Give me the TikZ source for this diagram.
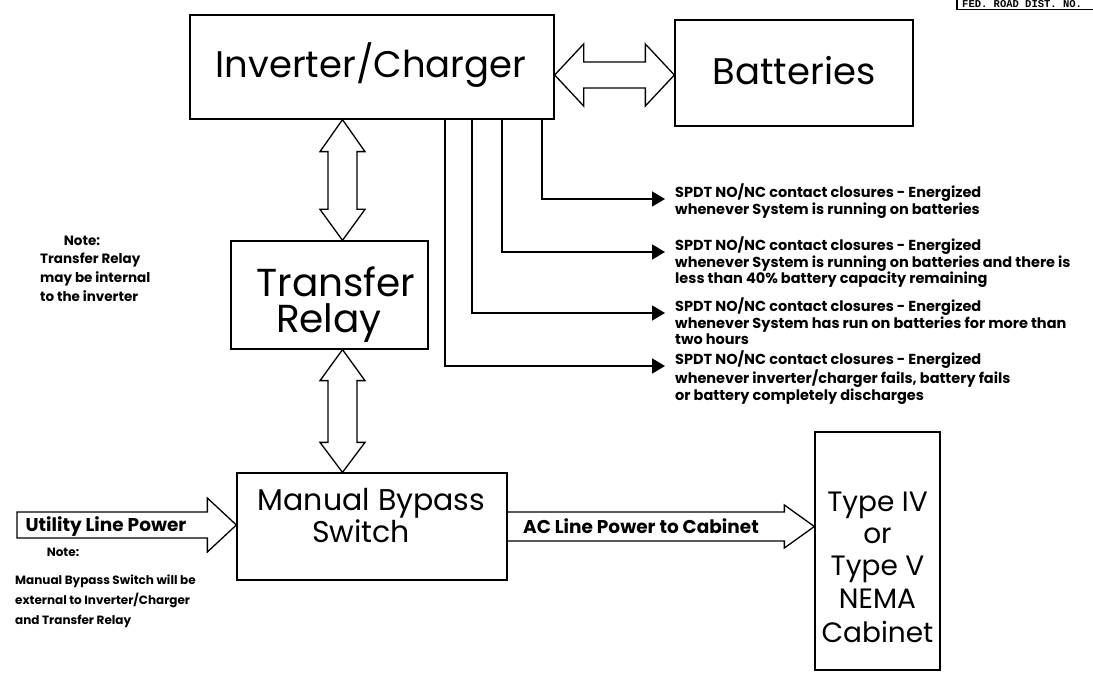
\documentclass[tikz,border=0pt]{standalone}
\usepackage{fontspec}
\setmainfont{Poppins}
\newfontfamily\monof{Liberation Mono}
\usetikzlibrary{arrows.meta,calc}
\begin{document}
\begin{tikzpicture}[x=1pt,y=-1pt,
  box/.style={draw, line width=1.3pt, inner sep=0pt},
  blk/.style={draw, line width=1.3pt, line join=miter},
  conn/.style={line width=1.8pt, -{Triangle[length=13pt,width=15pt]}},
  bigtxt/.style={font=\fontsize{37}{44}\selectfont, inner sep=0pt, anchor=base},
  midtxt/.style={font=\fontsize{30}{36}\selectfont, inner sep=0pt, anchor=base},
  cabtxt/.style={font=\fontsize{28}{33}\selectfont, inner sep=0pt, anchor=base},
  lbl/.style={font=\bfseries\fontsize{18.5}{22}\selectfont, inner sep=0pt, anchor=base},
  spdt/.style={font=\bfseries\fontsize{14.5}{16.5}\selectfont, align=left, anchor=north west, inner sep=0pt},
  note/.style={font=\bfseries\fontsize{12}{20}\selectfont, inner sep=0pt},
  notel/.style={font=\bfseries\fontsize{13.5}{20}\selectfont, inner sep=0pt},
]
\useasboundingbox (0,0) rectangle (1093,676);

% boxes
\node[box, minimum width=364pt, minimum height=104pt] (inv) at (372,67) {};
\node[box, minimum width=238pt, minimum height=106pt] (bat) at (794,73) {};
\node[box, minimum width=197pt, minimum height=108pt] (tr) at (329.5,295) {};
\node[box, minimum width=270pt, minimum height=107pt] (mbs) at (372,526.5) {};
\node[box, minimum width=125pt, minimum height=238pt] (cab) at (877.5,551) {};

% box texts
\node[bigtxt] (invt) at (371,78) {Inverter/Charger};
\node[bigtxt] (batt) at (794,85) {Batteries};
\node[bigtxt, font=\fontsize{39}{44}\selectfont] (trt1) at (336,297) {Transfer};
\node[bigtxt, font=\fontsize{39}{44}\selectfont] (trt2) at (329,333) {Relay};
\node[midtxt] (mbt1) at (371.5,510) {Manual Bypass};
\node[midtxt] (mbt2) at (361,542) {Switch};
\node[cabtxt] (cb1) at (877.5,511) {Type IV};
\node[cabtxt] (cb2) at (877.5,543) {or};
\node[cabtxt] (cb3) at (877.5,575) {Type V};
\node[cabtxt] (cb4) at (877.5,608) {NEMA};
\node[cabtxt] (cb5) at (877.5,642) {Cabinet};

% horizontal double arrow inverter <-> batteries
\coordinate (ha) at (inv.east |- 0,75);
\coordinate (hb) at (bat.west |- 0,75);
\draw[blk] let \p1=(ha), \p2=(hb) in
  (\x1,\y1) -- (\x1+29pt,\y1+31pt) -- (\x1+29pt,\y1+13pt) -- (\x2-29pt,\y1+13pt)
  -- (\x2-29pt,\y1+31pt) -- (\x2,\y1) -- (\x2-29pt,\y1-31pt) -- (\x2-29pt,\y1-13pt)
  -- (\x1+29pt,\y1-13pt) -- (\x1+29pt,\y1-31pt) -- cycle;

% vertical double arrows
\coordinate (va) at (inv.south -| 342.5,0);
\coordinate (vb) at (tr.north -| 342.5,0);
\draw[blk] let \p1=(va), \p2=(vb) in
  (\x1,\y1) -- (\x1+22.5pt,\y1-32pt) -- (\x1+14.5pt,\y1-32pt) -- (\x1+14.5pt,\y2+31pt)
  -- (\x1+22.5pt,\y2+31pt) -- (\x1,\y2) -- (\x1-22.5pt,\y2+31pt) -- (\x1-14.5pt,\y2+31pt)
  -- (\x1-14.5pt,\y1-32pt) -- (\x1-22.5pt,\y1-32pt) -- cycle;
\coordinate (vc) at (tr.south -| 342.5,0);
\coordinate (vd) at (mbs.north -| 342.5,0);
\draw[blk] let \p1=(vc), \p2=(vd) in
  (\x1,\y1) -- (\x1+22.5pt,\y1-31pt) -- (\x1+14.5pt,\y1-31pt) -- (\x1+14.5pt,\y2+30pt)
  -- (\x1+22.5pt,\y2+30pt) -- (\x1,\y2) -- (\x1-22.5pt,\y2+30pt) -- (\x1-14.5pt,\y2+30pt)
  -- (\x1-14.5pt,\y1-31pt) -- (\x1-22.5pt,\y1-31pt) -- cycle;

% utility line power arrow
\coordinate (ut) at (17,525);
\coordinate (uh) at (ut -| mbs.west);
\draw[blk] let \p1=(ut), \p2=(uh) in
  (\x1,\y1+13pt) -- (\x2-29pt,\y1+13pt) -- (\x2-29pt,\y1+27pt) -- (\x2,\y1)
  -- (\x2-29pt,\y1-27pt) -- (\x2-29pt,\y1-13pt) -- (\x1,\y1-13pt) -- cycle;
\node[lbl] (utl) at (106,531) {Utility Line Power};

% AC line power arrow
\coordinate (ac) at (mbs.east);
\coordinate (ah) at (mbs.east -| cab.west);
\draw[blk] let \p1=(ac), \p2=(ah) in
  (\x1,\y1+14.5pt) -- (\x2-30pt,\y1+14.5pt) -- (\x2-30pt,\y1+21.5pt) -- (\x2,\y1)
  -- (\x2-30pt,\y1-21.5pt) -- (\x2-30pt,\y1-14.5pt) -- (\x1,\y1-14.5pt);
\node[lbl] (acl) at (641,533) {AC Line Power to Cabinet};

% SPDT connectors
\coordinate (t1) at (665,199);
\coordinate (t2) at (665,252);
\coordinate (t3) at (665,313);
\coordinate (t4) at (665,366);
\draw[conn] (inv.south -| 542,0) |- (t1);
\draw[conn] (inv.south -| 502,0) |- (t2);
\draw[conn] (inv.south -| 472,0) |- (t3);
\draw[conn] (inv.south -| 445,0) |- (t4);

\node[spdt] (s1) at (675,184) {SPDT NO/NC contact closures - Energized\\whenever System is running on batteries};
\node[spdt] (s2) at (675,237) {SPDT NO/NC contact closures - Energized\\whenever System is running on batteries and there is\\less than 40\% battery capacity remaining};
\node[spdt] (s3) at (675,298) {SPDT NO/NC contact closures - Energized\\whenever System has run on batteries for more than\\two hours};
\node[spdt] (s4) at (675,351) {SPDT NO/NC contact closures - Energized\\whenever inverter/charger fails, battery fails\\or battery completely discharges};

% notes
\node[notel, anchor=base] (n1) at (82,246) {Note:};
\node[notel, anchor=base west] (n1a) at (40,264) {Transfer Relay};
\node[notel, anchor=base west] (n1b) at (40,283) {may be internal};
\node[notel, anchor=base west] (n1c) at (40,302) {to the inverter};

\node[note, anchor=base] (n2) at (63,556) {Note:};
\node[note, anchor=base west] (n2a) at (15,584) {Manual Bypass Switch will be};
\node[note, anchor=base west] (n2b) at (15,604) {external to Inverter/Charger};
\node[note, anchor=base west] (n2c) at (15,624) {and Transfer Relay};

% clipped title block at top right
\draw[line width=1.3pt] (957,-20) -- (957,9.5) -- (1110,9.5);
\node[font=\monof\bfseries\fontsize{10.5}{12}\selectfont, inner sep=0pt, anchor=base west] (fed) at (962,7.5) {FED. ROAD DIST. NO.};
\end{tikzpicture}
\end{document}
